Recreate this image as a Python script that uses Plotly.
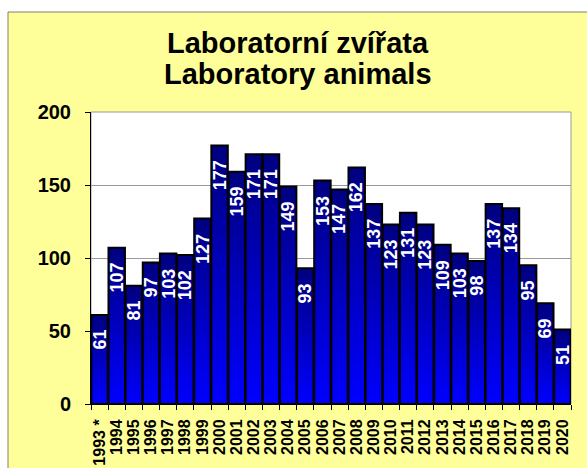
import plotly.graph_objects as go

years = ["1993 *", "1994", "1995", "1996", "1997", "1998", "1999", "2000", "2001", "2002",
         "2003", "2004", "2005", "2006", "2007", "2008", "2009", "2010", "2011", "2012",
         "2013", "2014", "2015", "2016", "2017", "2018", "2019", "2020"]
values = [61, 107, 81, 97, 103, 102, 127, 177, 159, 171,
          171, 149, 93, 153, 147, 162, 137, 123, 131, 123,
          109, 103, 98, 137, 134, 95, 69, 51]
title_lines = ["Laboratorní zvířata", "Laboratory animals"]

FONT = "Liberation Sans, Arial, sans-serif"
W, H = 587, 468
ML, MR, MT, MB = 91, 16, 112, 64
PW, PH = W - ML - MR, H - MT - MB

def px2x(p):
    return (p - ML) / PW

def py2y(p):
    return (H - MB - p) / PH

fig = go.Figure()
hw = 0.48
for i, v in enumerate(values):
    fig.add_trace(go.Scatter(
        x=[i - hw, i - hw, i + hw, i + hw, i - hw],
        y=[0, v, v, 0, 0],
        mode="lines",
        fill="toself",
        line=dict(color="black", width=2),
        fillgradient=dict(type="vertical",
                          colorscale=[[0, "#0000FF"], [1, "#000080"]]),
        hoverinfo="text",
        text=f"{years[i]}: {v}",
        showlegend=False,
    ))

annotations = []
for i, v in enumerate(values):
    annotations.append(dict(
        x=i, y=v, xref="x", yref="y", text=f"<b>{v}</b>", showarrow=False,
        textangle=-90, yanchor="top", xanchor="center", yshift=-13,
        font=dict(family=FONT, size=18, color="white"),
    ))

for line, ymid in zip(title_lines, [42.5, 74]):
    annotations.append(dict(
        x=px2x(298), y=py2y(ymid), xref="paper", yref="paper",
        text=f"<b>{line}</b>", showarrow=False,
        xanchor="center", yanchor="middle",
        font=dict(family=FONT, size=29, color="black"),
    ))

shapes = [
    dict(type="rect", xref="paper", yref="paper", layer="below",
         x0=px2x(8), x1=px2x(600), y0=py2y(480), y1=py2y(12),
         fillcolor="#FFFF99", line=dict(color="#808070", width=1)),
    dict(type="rect", xref="paper", yref="paper", layer="below",
         x0=0, x1=1, y0=0, y1=1,
         fillcolor="white", line=dict(color="#999999", width=1)),
]

fig.update_layout(
    width=W, height=H,
    margin=dict(l=ML, r=MR, t=MT, b=MB, autoexpand=False),
    paper_bgcolor="white", plot_bgcolor="white",
    annotations=annotations, shapes=shapes,
    font=dict(family=FONT, color="black"),
    xaxis=dict(
        range=[-0.5, len(values) - 0.5], automargin=False,
        tickmode="array", tickvals=list(range(len(values))), ticktext=[f"<b>{y}</b>" for y in years],
        tickangle=-90, ticks="", showgrid=False, zeroline=False,
        tickfont=dict(family=FONT, size=16, color="black"),
        showline=True, linecolor="black", linewidth=1,
        ticklabelstandoff=8,
        minor=dict(tickmode="array", tickvals=[i - 0.5 for i in range(len(values) + 1)],
                   ticks="outside", ticklen=5, tickcolor="black", showgrid=False),
    ),
    yaxis=dict(
        range=[0, 200], automargin=False, tickmode="array", tickvals=[0, 50, 100, 150, 200],
        ticktext=["<b>0</b>", "<b>50</b>", "<b>100</b>", "<b>150</b>", "<b>200</b>"],
        ticks="outside", ticklen=5, tickcolor="black",
        showgrid=True, gridcolor="#999999", gridwidth=1, zeroline=False,
        showline=True, linecolor="black", linewidth=1,
        tickfont=dict(family=FONT, size=20, color="black"),
        ticklabelstandoff=10,
    ),
)

fig.write_html("out.html", config={"displayModeBar": False},
               post_script="document.body.style.margin='0';document.body.style.padding='0';")
